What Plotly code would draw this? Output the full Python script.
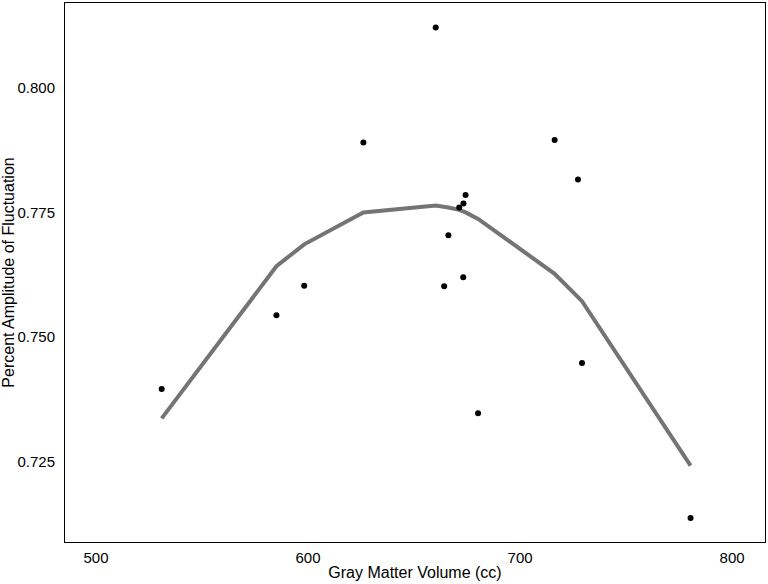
import plotly.graph_objects as go

# data
gm_volume = [531.0, 585.1, 598.2, 626.1, 660.2, 664.2, 666.2, 671.3,
             673.2, 673.3, 674.3, 680.2, 716.3, 727.3, 729.2, 780.4]
paf = [0.7396, 0.7544, 0.7603, 0.7890, 0.8121, 0.7602, 0.7704, 0.7760,
       0.7620, 0.7768, 0.7785, 0.7347, 0.7895, 0.7816, 0.7448, 0.7137]
paf_fit = [0.7337, 0.7642, 0.7686, 0.7750, 0.7764, 0.7762, 0.7760, 0.7755,
           0.7752, 0.7752, 0.7750, 0.7737, 0.7627, 0.7580, 0.7572, 0.7242]

x_ticks = [500, 600, 700, 800]
y_ticks = [0.725, 0.750, 0.775, 0.800]

fig = go.Figure()

# fitted curve
fig.add_trace(go.Scatter(
    x=gm_volume, y=paf_fit, mode="lines",
    line=dict(color="#747474", width=4),
    showlegend=False
))

# subjects
fig.add_trace(go.Scatter(
    x=gm_volume, y=paf, mode="markers",
    marker=dict(color="black", size=6),
    showlegend=False
))

fig.update_layout(
    width=768, height=584,
    margin=dict(l=64, r=2, t=2, b=42),
    plot_bgcolor="white", paper_bgcolor="white",
    font=dict(family="Liberation Sans, Arial, sans-serif", size=15, color="black"),
)
fig.update_xaxes(
    range=[485.4, 815.5], tickvals=x_ticks, ticktext=[str(v) for v in x_ticks],
    showgrid=False, zeroline=False, showline=True, linecolor="black", linewidth=1,
    mirror=True, ticks="", ticklabelstandoff=2,
    title=dict(text="Gray Matter Volume (cc)", font=dict(size=16), standoff=1),
)
fig.update_yaxes(
    range=[0.7089, 0.817], tickvals=y_ticks, ticktext=["%.3f" % v for v in y_ticks],
    showgrid=False, zeroline=False, showline=True, linecolor="black", linewidth=1,
    mirror=True, ticks="", ticklabelstandoff=6,
    title=dict(text="Percent Amplitude of Fluctuation", font=dict(size=16), standoff=4),
)

# drop the page's default body margin so the figure sits at the window's corner
fig.write_html("out.html", config={"displayModeBar": False},
               post_script="document.body.style.margin='0';")
